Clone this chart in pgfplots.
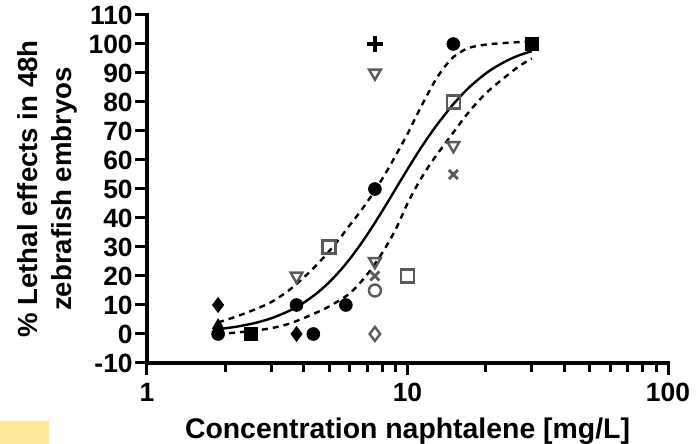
\documentclass[border=0pt]{standalone}
\usepackage{fontspec}
\setmainfont{Liberation Sans}
\usepackage{pgfplots}
\pgfplotsset{compat=1.18}
\definecolor{hl}{RGB}{255,231,154}
\definecolor{og}{RGB}{90,90,90}
\begin{document}
\begin{tikzpicture}
\useasboundingbox (-73.5pt,-40.5pt) rectangle (274.5pt,181.5pt);
\fill[hl] (-73.5pt,-40.5pt) rectangle (-49pt,-29pt);
\begin{axis}[
  at={(0pt,0pt)}, anchor=south west,
  scale only axis, width=260.5pt, height=174pt,
  xmode=log, xmin=1, xmax=100, ymin=-10, ymax=110,
  xtick={1,10,100}, xticklabels={1,10,100},
  ytick={-10,0,10,20,30,40,50,60,70,80,90,100,110},
  axis lines*=left,
  axis line style={line width=1.6pt, line cap=rect},
  every tick/.style={line width=1.5pt, black},
  major tick length=6pt, minor tick length=4.3pt,
  tick align=outside,
  clip=false,
  /pgf/number format/assume math mode=true,
  tick label style={font=\fontsize{13.2}{15}\selectfont\bfseries},
  yticklabel style={inner sep=0pt, xshift=-1pt},
  xticklabel style={inner sep=0pt, yshift=-4pt},
  every axis x label/.style={at={(axis description cs:0.5,0)}, anchor=base, yshift=-38pt, font=\fontsize{14.2}{16}\selectfont\bfseries},
  every axis y label/.style={at={(axis description cs:-0.134,0.5)}, anchor=south, rotate=90, align=center, inner sep=0pt, font=\fontsize{13.8}{17}\selectfont\bfseries},
  xlabel={Concentration naphtalene [mg/L]},
  ylabel={\% Lethal effects in 48h\\zebrafish embryos},
]
% fitted curve
\addplot[black, line width=1.2pt, smooth, no marks] coordinates {
(1.875,1.67) (2.2,2.50) (2.6,3.81) (3,5.43) (3.5,7.90) (4,10.83) (4.5,14.16) (5,17.82) (5.5,21.75) (6,25.84) (6.5,30.02) (7,34.23) (7.5,38.36) (8,42.41) (8.5,46.29) (9,50) (9.5,53.51) (10,56.81) (11,62.76) (12,67.87) (13,72.23) (14,75.93) (15,79.3) (17,84.5) (19,88.3) (21,91.2) (24,94.2) (27,96.2) (30,97.5)};
% upper band
\addplot[black, line width=1.2pt, dash pattern=on 3pt off 2.5pt, smooth, no marks] coordinates {
(1.875,4) (2.2,6) (2.6,8.5) (3,11) (3.5,15) (4,19.5) (4.5,24) (5,28.5) (5.5,33) (6,37.5) (6.5,41.5) (7,45.5) (7.5,49.5) (8,53.5) (8.5,57.5) (9,61.5) (10,69) (11,76.5) (12,83) (13,88.5) (14,92.5) (15,95.5) (17,98.5) (20,99.8) (25,100.5) (30,100.8)};
% lower band
\addplot[black, line width=1.2pt, dash pattern=on 3pt off 2.5pt, smooth, no marks] coordinates {
(1.875,0) (2.2,0.5) (2.6,1.2) (3,2) (3.5,3.5) (4,5.5) (4.5,7.5) (5,9.5) (6,14) (7,20.5) (8,28) (9,36) (10,45) (11,52) (12,57.5) (13,62) (15,69.5) (17,76) (20,83) (24,89) (27,92.5) (30,95)};
% filled circles
\addplot[only marks, mark=*, mark size=3.2pt, mark options={fill=black, draw=black}] coordinates {
(1.875,0) (3.75,10) (4.35,0) (5.8,10) (7.5,50) (15,100)};
% filled squares
\addplot[only marks, mark=square*, mark size=3.2pt, mark options={fill=black, draw=black}] coordinates {
(2.5,0) (30,100)};
% filled diamonds
\addplot[only marks, mark=diamond*, mark size=3.7pt, mark options={fill=black, draw=black}] coordinates {
(1.875,10) (3.75,0)};
% filled triangle
\addplot[only marks, mark=triangle*, mark size=3.2pt, mark options={fill=black, draw=black}] coordinates {
(1.875,3)};
% open squares
\addplot[only marks, mark=square, mark size=3.2pt, mark options={draw=og, fill=white, line width=1.2pt}] coordinates {
(5,30) (10,20) (15,80)};
% open inverted triangles
\addplot[only marks, mark=triangle, mark size=3.4pt, mark options={draw=og, fill=white, line width=1.2pt, rotate=180}] coordinates {
(3.75,20) (7.5,90) (15,65) (7.5,25)};
% open circle
\addplot[only marks, mark=o, mark size=3pt, mark options={draw=og, fill=white, line width=1.2pt}] coordinates {
(7.5,15)};
% open diamond
\addplot[only marks, mark=diamond, mark size=3.5pt, mark options={draw=og, fill=white, line width=1.2pt}] coordinates {
(7.5,0)};
% plus
\addplot[only marks, mark=+, mark size=4pt, mark options={draw=black, line width=1.7pt}] coordinates {
(7.5,100)};
% crosses
\addplot[only marks, mark=x, mark size=3.2pt, mark options={draw=og, line width=1.4pt}] coordinates {
(15,55) (7.5,20)};
\end{axis}
\end{tikzpicture}
\end{document}
